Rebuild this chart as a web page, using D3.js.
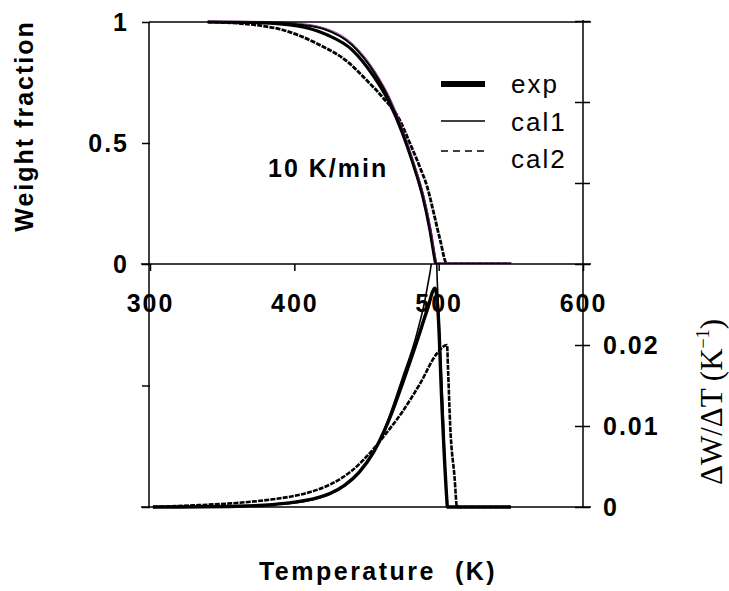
<!DOCTYPE html>
<html lang="en">
<head>
<meta charset="utf-8">
<title>Weight fraction - 10 K/min</title>
<script src="https://cdnjs.cloudflare.com/ajax/libs/d3/7.8.5/d3.min.js"></script>
<style>
	html, body { margin: 0; padding: 0; background: white; }
	svg { display: block; background: white; }

	.tick text, .bold-lbl {
		font-family: "Liberation Sans", Arial, sans-serif;
		font-weight: bold;
		font-size: 25px;
		letter-spacing: 2px;
		fill: black;
	}
	.legend-lbl {
		font-family: "Liberation Sans", Arial, sans-serif;
		font-size: 26px;
		letter-spacing: 2px;
		fill: black;
	}
	.rate-title {
		font-family: "Liberation Serif", "Times New Roman", serif;
		font-size: 31px;
		fill: black;
	}
	.frame { stroke: black; stroke-width: 1.5px; }
	.tick line { stroke: black; stroke-width: 1.5px; }
</style>
</head>
<body>

<svg id="chart" width="729" height="591"></svg>

<script>

var width  = 729;
var height = 591;

//---------------------------------------------
// data
//---------------------------------------------
var tempTicks  = [300, 400, 500, 600];
var fracTicks  = [0, 0.5, 1];
var rateTicks  = [0, 0.01, 0.02, 0.03, 0.04, 0.05, 0.06];
var rateLabels = ["0", "0.01", "0.02"];   // only the lower three ticks carry a label

var seriesNames = ["exp", "cal1", "cal2"];

// weight fraction [T (K), W]
var wExp = [[340, 1], [370, 0.998], [397, 0.988], [415, 0.965], [423, 0.946], [440, 0.885],
	[455, 0.775], [466, 0.665], [475, 0.54], [482, 0.42], [489, 0.28], [494, 0.14],
	[497.5, 0.015], [498, 0], [550, 0]];
var wCal1 = [[340, 1], [380, 0.998], [400, 0.992], [420, 0.972], [440, 0.905], [455, 0.795],
	[466, 0.678], [475, 0.546], [482, 0.42], [489, 0.28], [494, 0.14], [497.5, 0.015],
	[498, 0], [550, 0]];
var wCal2 = [[340, 1], [360, 0.995], [380, 0.982], [392, 0.967], [415, 0.913], [438, 0.83],
	[450, 0.76], [461, 0.69], [473, 0.595], [480, 0.5], [487, 0.4], [492, 0.32],
	[497, 0.2], [501, 0.1], [505.8, 0], [550, 0]];

// dW/dT [T (K), 1/K]
var dExp = [[302, 0], [360, 0.0001], [385, 0.0003], [400, 0.0006], [415, 0.0011], [425, 0.0017],
	[435, 0.0027], [445, 0.0043], [455, 0.0068], [465, 0.0105], [475, 0.0153], [485, 0.0205],
	[492, 0.0243], [497.5, 0.027], [499.6, 0.024], [502.4, 0.012], [505.8, 0.0005], [506, 0], [550, 0]];
var dCal1 = [[302, 0], [360, 0.0001], [385, 0.0003], [400, 0.0005], [415, 0.001], [425, 0.0016],
	[435, 0.0026], [445, 0.0042], [455, 0.0068], [465, 0.0108], [475, 0.016], [485, 0.0215],
	[492, 0.027], [496, 0.032], [497.5, 0.036], [499, 0.028], [500, 0.024], [503, 0.012],
	[505.5, 0.001], [506, 0], [550, 0]];
var dCal2 = [[302, 0], [330, 0.0002], [360, 0.0005], [385, 0.00095], [408, 0.0017], [425, 0.0028],
	[440, 0.0045], [455, 0.0072], [465, 0.0094], [475, 0.0118], [487, 0.0152], [499, 0.019],
	[505.8, 0.02], [506.5, 0.017], [508, 0.01], [511, 0.0037], [512.7, 0], [550, 0]];


//---------------------------------------------
// scales
//---------------------------------------------
var x  = d3.scaleLinear().domain([300, 600]).range([150, 583]);
var yW = d3.scaleLinear().domain([0, 1]).range([264, 22]);
var yD = d3.scaleLinear().domain([0, 0.06]).range([507, 21]);

var svg = d3.select("#chart");

var lineW = d3.line().x(function(d) { return x(d[0]); }).y(function(d) { return yW(d[1]); }).curve(d3.curveMonotoneX);
var lineD = d3.line().x(function(d) { return x(d[0]); }).y(function(d) { return yD(d[1]); }).curve(d3.curveMonotoneX);

// clip regions for the two panels
var defs = svg.append("defs");
defs.append("clipPath").attr("id", "clip-top")
	.append("rect").attr("x", x(300)).attr("y", yW(1) - 3)
	.attr("width", x(600) - x(300)).attr("height", yW(0) - yW(1) + 3);
defs.append("clipPath").attr("id", "clip-bot")
	.append("rect").attr("x", x(300)).attr("y", yD(0.03))
	.attr("width", x(600) - x(300)).attr("height", yD(0) - yD(0.03) + 3);


//---------------------------------------------
// top panel curves - weight fraction
//---------------------------------------------
var top_view = svg.append("g").attr("clip-path", "url(#clip-top)");

top_view.append("path").datum(wCal2)
	.attr("d", lineW)
	.style("fill", "none").style("stroke", "black")
	.style("stroke-width", "2.8px").style("stroke-dasharray", "5,1.2");

top_view.append("path").datum(wExp)
	.attr("d", lineW)
	.style("fill", "none").style("stroke", "black").style("stroke-width", "3.2px");

top_view.append("path").datum(wCal1)
	.attr("d", lineW)
	.style("fill", "none").style("stroke", "black").style("stroke-width", "2.2px");

// thin purple trace sitting on the cal1 edge
top_view.append("path").datum(wCal1)
	.attr("d", lineW)
	.attr("transform", "translate(1,-1)")
	.style("fill", "none").style("stroke", "#7b1e7b").style("stroke-width", "0.8px");


//---------------------------------------------
// bottom panel curves - dW/dT
//---------------------------------------------
var bot_view = svg.append("g").attr("clip-path", "url(#clip-bot)");

bot_view.append("path").datum(dCal2)
	.attr("d", lineD)
	.style("fill", "none").style("stroke", "black")
	.style("stroke-width", "2.6px").style("stroke-dasharray", "5,1.2");

bot_view.append("path").datum(dExp)
	.attr("d", lineD)
	.style("fill", "none").style("stroke", "black").style("stroke-width", "3.4px");

bot_view.append("path").datum(dCal1)
	.attr("d", lineD)
	.style("fill", "none").style("stroke", "black").style("stroke-width", "1.6px");


//---------------------------------------------
// axes
//---------------------------------------------
// x axis, sits between the two panels
var xAxis = svg.append("g")
	.attr("transform", "translate(0," + yW(0) + ")")
	.call(d3.axisBottom(x).tickValues(tempTicks).tickSize(7).tickPadding(23).tickSizeOuter(0));
xAxis.select(".domain").remove();

// weight fraction axis (left, top panel)
var wAxis = svg.append("g")
	.attr("transform", "translate(" + x(300) + ",0)")
	.call(d3.axisLeft(yW).tickValues(fracTicks).tickSize(8).tickPadding(13)
		.tickFormat(d3.format("")).tickSizeOuter(0));
wAxis.select(".domain").remove();

// left ticks of the bottom panel (no labels)
var dLeft = svg.append("g")
	.attr("transform", "translate(" + x(300) + ",0)")
	.call(d3.axisLeft(yD).tickValues([0, 0.015]).tickSize(8).tickFormat(""));
dLeft.select(".domain").remove();

// rate axis (right, runs the full height)
var dAxis = svg.append("g")
	.attr("transform", "translate(" + x(600) + ",0)")
	.call(d3.axisRight(yD).tickValues(rateTicks).tickSize(7).tickPadding(13).tickSizeOuter(0)
		.tickFormat(function(d, i) { return i < rateLabels.length ? rateLabels[i] : ""; }));
dAxis.select(".domain").remove();
dAxis.selectAll(".tick line").attr("x1", -8);   // ticks cross the axis

// frame lines
var frame = svg.append("g").attr("class", "frame-lines");
frame.append("line").attr("class", "frame")
	.attr("x1", x(300) - 1).attr("x2", x(300) - 1).attr("y1", yW(1)).attr("y2", yD(0));
frame.append("line").attr("class", "frame")
	.attr("x1", x(600)).attr("x2", x(600)).attr("y1", yD(0.06) - 1).attr("y2", yD(0));
frame.append("line").attr("class", "frame")
	.attr("x1", x(300) - 1).attr("x2", x(600) + 8).attr("y1", yW(1)).attr("y2", yW(1));
frame.append("line").attr("class", "frame")
	.attr("x1", x(300) - 9).attr("x2", x(600) + 8).attr("y1", yW(0)).attr("y2", yW(0));
frame.append("line").attr("class", "frame")
	.attr("x1", x(300) - 9).attr("x2", x(600) + 8).attr("y1", yD(0)).attr("y2", yD(0));


//---------------------------------------------
// titles, note, legend
//---------------------------------------------
svg.append("text").attr("class", "bold-lbl")
	.attr("transform", "translate(33,126) rotate(-90)")
	.attr("text-anchor", "middle")
	.text("Weight fraction");

svg.append("text").attr("class", "bold-lbl")
	.attr("x", 378).attr("y", 580)
	.attr("text-anchor", "middle")
	.style("white-space", "pre")
	.style("letter-spacing", "2.5px")
	.text("Temperature  (K)");

var rt = svg.append("text").attr("class", "rate-title")
	.attr("transform", "translate(722,402) rotate(-90)")
	.attr("text-anchor", "middle");
rt.append("tspan").text("\u0394W/\u0394T (K");
rt.append("tspan").attr("dy", -13).style("font-size", "18px").text("\u22121");
rt.append("tspan").attr("dy", 13).text(")");

svg.append("text").attr("class", "bold-lbl")
	.attr("x", 268).attr("y", 177)
	.text("10 K/min");

// legend
var legendWidth = [6, 1.5, 1.5];
var legendDash  = [null, null, "7,5"];
var legendY     = [84, 121, 151];
var legendTextY = [93, 131, 168];

var legend = svg.append("g").attr("class", "legend");
seriesNames.forEach(function(name, i) {
	legend.append("line")
		.attr("x1", 441).attr("x2", 485)
		.attr("y1", legendY[i]).attr("y2", legendY[i])
		.style("stroke", "black")
		.style("stroke-width", legendWidth[i] + "px")
		.style("stroke-dasharray", legendDash[i]);
	legend.append("text").attr("class", "legend-lbl")
		.attr("x", 511).attr("y", legendTextY[i])
		.text(name);
});

</script>
</body>
</html>
